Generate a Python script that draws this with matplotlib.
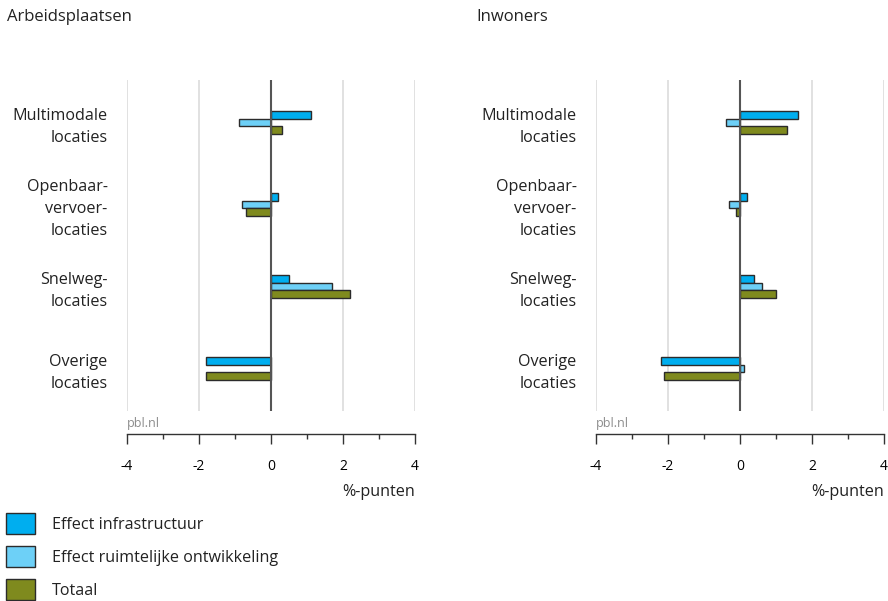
import matplotlib
matplotlib.use("Agg")
import matplotlib.pyplot as plt
from matplotlib.patches import Patch
import numpy as np

plt.rcParams['font.family'] = ['Open Sans', 'DejaVu Sans']
plt.rcParams['axes.unicode_minus'] = False

categories = ["Multimodale\nlocaties", "Openbaar-\nvervoer-\nlocaties",
              "Snelweg-\nlocaties", "Overige\nlocaties"]
series_names = ["Effect infrastructuur", "Effect ruimtelijke ontwikkeling", "Totaal"]
colors = ["#00aeef", "#6dd0f7", "#7f8a1e"]

panel_titles = ["Arbeidsplaatsen", "Inwoners"]
arbeidsplaatsen = {
    "Effect infrastructuur": [1.1, 0.2, 0.5, -1.8],
    "Effect ruimtelijke ontwikkeling": [-0.9, -0.8, 1.7, 0.0],
    "Totaal": [0.3, -0.7, 2.2, -1.8],
}
inwoners = {
    "Effect infrastructuur": [1.6, 0.2, 0.4, -2.2],
    "Effect ruimtelijke ontwikkeling": [-0.4, -0.3, 0.6, 0.1],
    "Totaal": [1.3, -0.1, 1.0, -2.1],
}
xticks = [-4, -2, 0, 2, 4]
xlabel = "%-punten"

W, H = 888, 601
fig = plt.figure(figsize=(W / 100, H / 100), dpi=100)

text_color = "#222222"
fs = 11.6
bar_h = 0.094
offsets = [-bar_h, 0.0, bar_h]

panels = [(127, panel_titles[0], arbeidsplaatsen, 7),
          (596, panel_titles[1], inwoners, 476)]

for left_px, title, data, title_x in panels:
    ax = fig.add_axes([left_px / W, 1 - 411 / H, 288 / W, 331 / H])
    y = np.arange(len(categories))
    for name, col, off in zip(series_names, colors, offsets):
        vals = np.array(data[name])
        ax.barh(y + off, vals, height=bar_h, color=col, edgecolor="#2b2b2b",
                linewidth=1.0, zorder=3)
    ax.set_xlim(-4, 4)
    ax.set_ylim(3.52, -0.52)
    for gx in [-4, -2, 2, 4]:
        ax.axvline(gx, color="#dcdcdc", linewidth=1.2, zorder=1)
    ax.axvline(0, color="#555555", linewidth=1.5, zorder=4)

    ax.set_yticks(y - 0.01)
    ax.set_yticklabels(categories, fontsize=fs, color=text_color,
                       multialignment="right", linespacing=1.5)
    ax.tick_params(axis="y", length=0, pad=14)

    ax.set_xticks(xticks)
    ax.set_xticklabels([str(t) for t in xticks], fontsize=fs, color=text_color)
    ax.set_xticks([-3, -1, 1, 3], minor=True)
    ax.tick_params(axis="x", which="major", direction="out", length=7,
                   width=1, color="#333333", pad=11)
    ax.tick_params(axis="x", which="minor", direction="out", length=3.5,
                   width=1, color="#333333")
    for s in ["top", "right", "left"]:
        ax.spines[s].set_visible(False)
    ax.spines["bottom"].set_position(("outward", 23 * 0.72))
    ax.spines["bottom"].set_color("#333333")
    ax.spines["bottom"].set_linewidth(1.0)
    ax.set_facecolor("none")

    fig.text((left_px + 288) / W, 1 - 492 / H, xlabel, ha="right", va="center",
             fontsize=fs, color=text_color)
    fig.text(left_px / W, 1 - 423 / H, "pbl.nl", ha="left", va="center",
             fontsize=9, color="#8c8c8c")
    fig.text(title_x / W, 1 - 17 / H, title, ha="left", va="center",
             fontsize=fs + 0.4, color=text_color)

handles = [Patch(facecolor=c, edgecolor="#2b2b2b", linewidth=1.0) for c in colors]
fig.legend(handles, series_names, loc="upper left",
           bbox_to_anchor=(6 / W, 1 - 513 / H), frameon=False, fontsize=fs,
           handlelength=1.8, handleheight=1.65, labelspacing=0.72,
           handletextpad=1.05, borderpad=0, borderaxespad=0, labelcolor=text_color)

fig.savefig("out.png", dpi=100)
